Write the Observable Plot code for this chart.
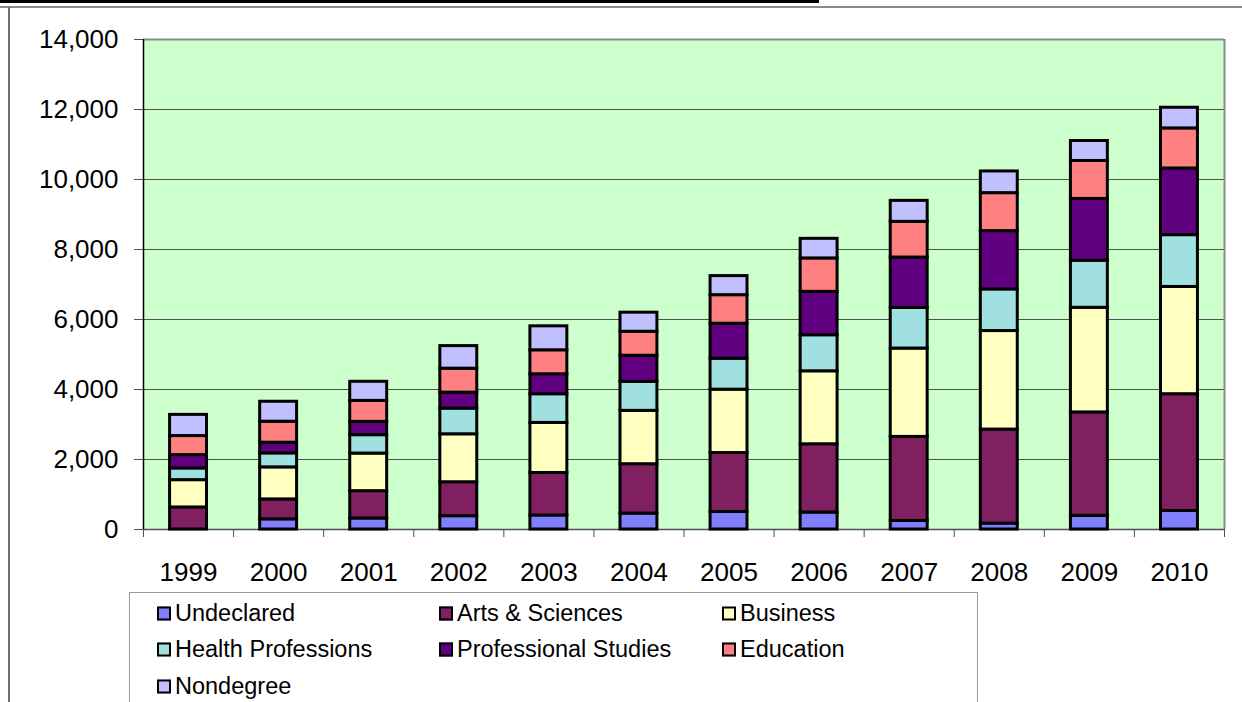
<!DOCTYPE html>
<html>
<head>
<meta charset="utf-8">
<script src="https://cdn.jsdelivr.net/npm/d3@7"></script>
<script src="https://cdn.jsdelivr.net/npm/@observablehq/plot@0.6"></script>
<style>
  html, body { margin: 0; padding: 0; background: #fff; }
  #page { position: relative; width: 1242px; height: 702px; overflow: hidden; font-family: "Liberation Sans", Arial, sans-serif; }
  .line { position: absolute; }
  #chart { position: absolute; left: 0; top: 0; }
  #legend { position: absolute; left: 129px; top: 592px; width: 847px; height: 140px; border: 1.5px solid #9a9a9a; background: #fff; }
  .item { position: absolute; display: flex; align-items: center; font-size: 23.5px; color: #000; white-space: nowrap; transform: translateY(-50%); }
  .sw { width: 10px; height: 10px; border: 2px solid #000; margin-right: 4px; }
</style>
</head>
<body>
<div id="page">
  <div class="line" style="left:0;top:0;width:819px;height:3px;background:#000"></div>
  <div class="line" style="left:0;top:6px;width:1242px;height:2px;background:#8a8a8a"></div>
  <div class="line" style="left:8px;top:7px;width:2px;height:700px;background:#707070"></div>
  <div id="chart"></div>
  <div id="legend"></div>
</div>
<script>
const years = [1999, 2000, 2001, 2002, 2003, 2004, 2005, 2006, 2007, 2008, 2009, 2010];
const programs = ["Undeclared", "Arts & Sciences", "Business", "Health Professions", "Professional Studies", "Education", "Nondegree"];
const colors = ["#8080FF", "#802060", "#FFFFC0", "#A0E0E0", "#600080", "#FF8080", "#C0C0FF"];
const undeclared   = [0, 290, 315, 380, 400, 455, 500, 485, 245, 170, 390, 530];
const arts         = [630, 570, 780, 970, 1215, 1410, 1685, 1950, 2400, 2685, 2955, 3335];
const business     = [780, 915, 1075, 1370, 1430, 1525, 1810, 2085, 2525, 2815, 2990, 3065];
const health       = [335, 400, 525, 735, 820, 830, 885, 1030, 1160, 1190, 1345, 1480];
const professional = [380, 305, 380, 455, 570, 745, 1000, 1240, 1440, 1665, 1765, 1905];
const education    = [545, 600, 600, 685, 685, 685, 815, 955, 1020, 1085, 1085, 1145];
const nondegree    = [605, 570, 545, 645, 685, 545, 545, 560, 600, 620, 570, 590];
const yTicks = [0, 2000, 4000, 6000, 8000, 10000, 12000, 14000];

const seriesValues = [undeclared, arts, business, health, professional, education, nondegree];
const data = years.flatMap((yr, i) => programs.map((p, j) => ({year: yr, program: p, value: seriesValues[j][i]})));
const halfBar = 0.205;
const boundaries = [years[0] - 0.5, ...years.map(y => y + 0.5)];

const chart = Plot.plot({
  width: 1242,
  height: 590,
  marginLeft: 143,
  marginRight: 18,
  marginTop: 39,
  marginBottom: 61,
  style: {fontFamily: "'Liberation Sans', Arial, sans-serif", fontSize: "26px", background: "transparent", color: "#000", overflow: "visible"},
  x: {type: "linear", domain: [years[0] - 0.5, years[years.length - 1] + 0.5]},
  y: {domain: [0, 14000]},
  color: {domain: programs, range: colors},
  marks: [
    Plot.frame({fill: "#CCFFCC", stroke: null}),
    Plot.ruleY(yTicks.slice(1, -1), {stroke: "#505050", strokeWidth: 1}),
    Plot.ruleY([14000], {stroke: "#8a8a8a", strokeWidth: 2}),
    Plot.ruleX([years[years.length - 1] + 0.5], {stroke: "#8a8a8a", strokeWidth: 2}),
    Plot.ruleY([0], {stroke: "#505050", strokeWidth: 1.5}),
    Plot.rectY(data, {
      x1: d => d.year - halfBar,
      x2: d => d.year + halfBar,
      y: "value",
      fill: "program",
      order: programs,
      stroke: "#000",
      strokeWidth: 3
    }),
    Plot.ruleX([years[0] - 0.5], {stroke: "#000", strokeWidth: 1.5}),
    Plot.axisY({ticks: yTicks, tickSize: 9, tickPadding: 16, tickFormat: d3.format(","), label: null, fontSize: 26, stroke: "#505050"}),
    Plot.axisX({ticks: boundaries, tickSize: 8, tickFormat: () => "", label: null, stroke: "#505050"}),
    Plot.axisX({ticks: years, tickSize: 0, tickPadding: 33, tickFormat: d => String(d), label: null, fontSize: 26})
  ]
});
document.getElementById("chart").appendChild(chart);

const legend = document.getElementById("legend");
const colX = [27, 309, 592];
const rowY = [20, 56, 93];
programs.forEach((p, i) => {
  const item = document.createElement("div");
  item.className = "item";
  item.style.left = colX[i % 3] + "px";
  item.style.top = rowY[Math.floor(i / 3)] + "px";
  const sw = document.createElement("div");
  sw.className = "sw";
  sw.style.background = colors[i];
  item.appendChild(sw);
  const t = document.createElement("span");
  t.textContent = p;
  item.appendChild(t);
  legend.appendChild(item);
});
</script>
</body>
</html>
